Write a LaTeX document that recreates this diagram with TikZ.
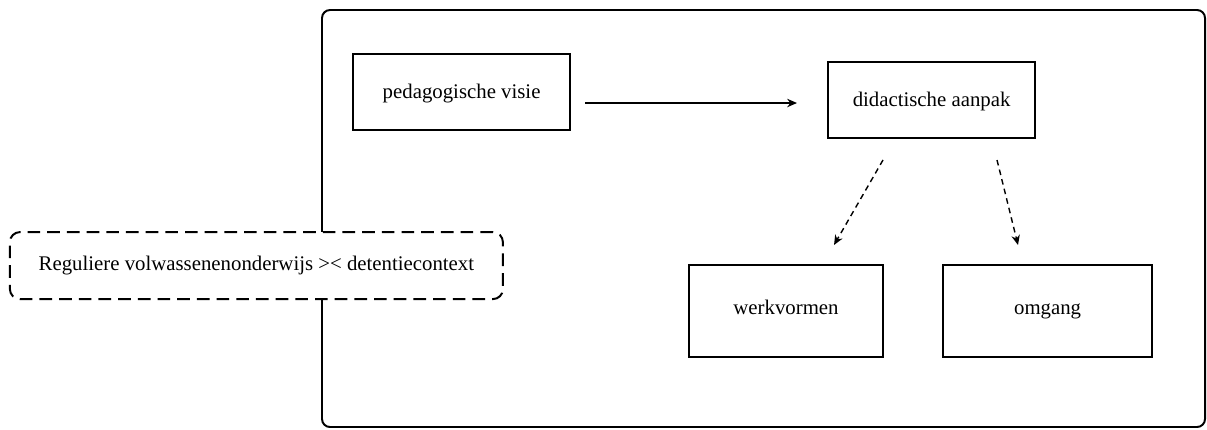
\documentclass[tikz,border=0pt]{standalone}
\usepackage{fontspec}
\setmainfont{Liberation Serif}
\usetikzlibrary{arrows.meta}
\tikzset{
	box/.style={draw, line width=1pt, inner sep=0pt, text height=1.6ex, text depth=0.4ex},
	topbox/.style={box, text height=2.4ex, minimum height=1.9cm},
	ctxbox/.style={draw, line width=1.4pt, dash pattern=on 9pt off 5pt, rounded corners=0.25cm, fill=white, minimum width=12.325cm, minimum height=1.675cm},
	link/.style={draw, -{Stealth[length=7pt,width=6pt]}, line width=1pt},
	dlink/.style={link, dash pattern=on 4pt off 3pt}
}

\begin{document}
\begin{tikzpicture}[font=\fontsize{14.8}{17}\selectfont]
\useasboundingbox (0,0) rectangle (30.175,-10.725);
\draw[line width=1.4pt, rounded corners=0.2cm] (8.05,-0.25) rectangle (30.125,-10.675);

\node[ctxbox] (ctx) at (6.41,-6.64) {Reguliere volwassenenonderwijs >< detentiecontext};

\node[topbox, minimum width=5.425cm] (ped) at (11.54,-2.3) {pedagogische visie};
\node[topbox, minimum width=5.175cm] (did) at (23.29,-2.5) {didactische aanpak};
\node[box, minimum width=4.85cm, minimum height=2.3cm] (werk) at (19.65,-7.775) {werkvormen};
\node[box, minimum width=5.225cm, minimum height=2.3cm] (omg) at (26.19,-7.775) {omgang};

\coordinate (ped-out) at (14.625,-2.575);
\coordinate (did-in) at (19.925,-2.575);
\coordinate (did-l) at (22.075,-4.0);
\coordinate (did-r) at (24.925,-4.0);
\coordinate (werk-in) at (20.85,-6.125);
\coordinate (omg-in) at (25.45,-6.125);

\draw[link] (ped-out) -- (did-in);
\draw[dlink] (did-l) -- (werk-in);
\draw[dlink] (did-r) -- (omg-in);
\end{tikzpicture}
\end{document}
